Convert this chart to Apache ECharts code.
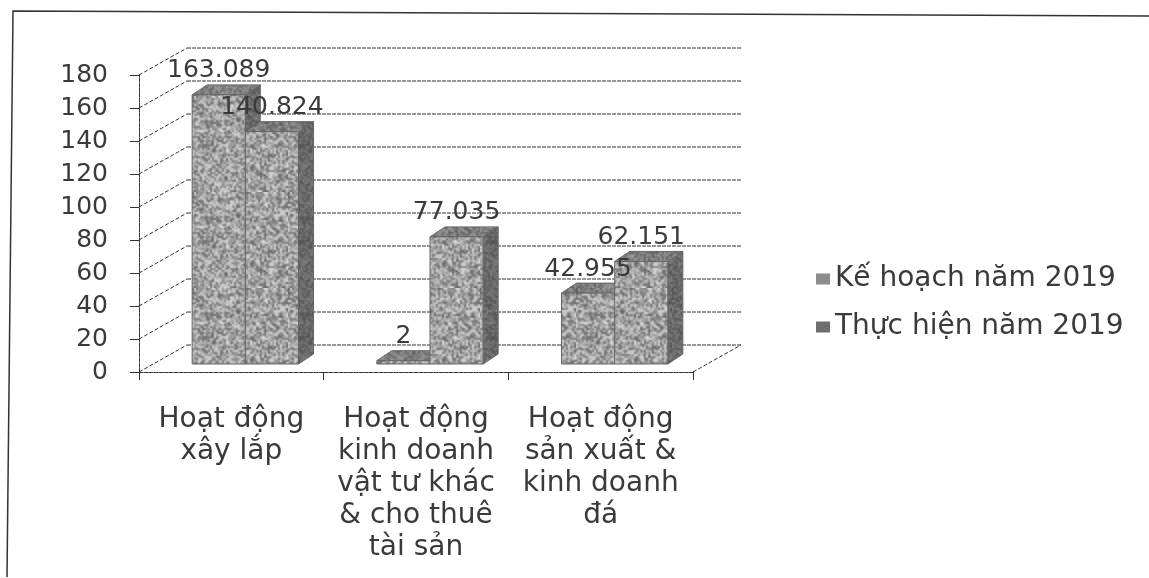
<!DOCTYPE html>
<html lang="en">

<head>
    <meta charset="UTF-8">
    <title>Hoạt động 2019</title>
    <script src="https://cdn.jsdelivr.net/npm/echarts/dist/echarts.min.js"></script>
    <style>
        html, body { margin: 0; padding: 0; background: #fff; }
    </style>
</head>

<body>
    <div id="chart" style="width: 1149px; height: 578px;"></div>
    <script>
        const categories = ['Hoạt động\nxây lắp', 'Hoạt động\nkinh doanh\nvật tư khác\n& cho thuê\ntài sản', 'Hoạt động\nsản xuất &\nkinh doanh\nđá'];
        const planName = 'Kế hoạch năm 2019';
        const actualName = 'Thực hiện năm 2019';
        const planValues = [163.089, 2, 42.955];
        const actualValues = [140.824, 77.035, 62.151];
        const yTicks = [0, 20, 40, 60, 80, 100, 120, 140, 160, 180];

        const font = '"DejaVu Sans", sans-serif';
        const textColor = '#3a3a3a';

        // wall depth of the fake 3d box, and the bar depth inside it
        const wallDx = 48, wallDy = -27;
        const barDx = 15, barDy = -10;
        const barShiftX = 14, barShiftY = -8;
        const barShare = 0.288;

        // scanned grey speckle for the bar faces, 2px grains then smoothed
        function speckle(base, spread) {
            const size = 48, scale = 2;
            const small = document.createElement('canvas');
            small.width = small.height = size;
            const sctx = small.getContext('2d');
            for (let y = 0; y < size; y++) {
                for (let x = 0; x < size; x++) {
                    const h = Math.sin(x * 12.9898 + y * 78.233) * 43758.5453;
                    const n = h - Math.floor(h);
                    const g = Math.round(base + (n - 0.5) * spread);
                    sctx.fillStyle = `rgb(${g},${g},${g})`;
                    sctx.fillRect(x, y, 1, 1);
                }
            }
            const canvas = document.createElement('canvas');
            canvas.width = canvas.height = size * scale;
            const ctx = canvas.getContext('2d');
            ctx.imageSmoothingEnabled = true;
            ctx.drawImage(small, 0, 0, size * scale, size * scale);
            return { image: canvas, repeat: 'repeat' };
        }
        const frontFill = speckle(160, 120);
        const topFill = speckle(125, 70);
        const sideFill = speckle(105, 50);

        function renderWalls(params, api) {
            const rect = params.coordSys;
            const y = api.coord([0, api.value(0)])[1];
            const x0 = rect.x, x1 = x0 + wallDx, x2 = rect.x + rect.width + wallDx;
            const line = { stroke: '#333', lineWidth: 1, lineDash: [4, 1] };
            const children = [
                { type: 'line', shape: { x1: x0, y1: y, x2: x1, y2: y + wallDy }, style: { ...line, lineDash: [4, 2] } },
                { type: 'line', shape: { x1: x1, y1: y + wallDy, x2: x2, y2: y + wallDy }, style: line }
            ];
            if (api.value(0) === 0) {
                // floor edge on the right
                children.push({ type: 'line', shape: { x1: rect.x + rect.width, y1: y, x2: x2, y2: y + wallDy }, style: { ...line, lineDash: [4, 2] } });
            }
            return { type: 'group', children };
        }

        function barBox(api, serieNo) {
            const base = api.coord([api.value(0), 0]);
            const top = api.coord([api.value(0), api.value(1)]);
            const w = api.size([1, 0])[0] * barShare;
            const left = base[0] + barShiftX + (serieNo - 1) * w;
            return { left, right: left + w, bottom: base[1] + barShiftY, top: top[1] + barShiftY };
        }

        function renderBar(serieNo) {
            return function (params, api) {
                const b = barBox(api, serieNo);
                const edge = { stroke: '#666', lineWidth: 1 };
                return {
                    type: 'group',
                    children: [
                        {
                            type: 'polygon',
                            shape: { points: [[b.right, b.bottom], [b.right + barDx, b.bottom + barDy], [b.right + barDx, b.top + barDy], [b.right, b.top]] },
                            style: { fill: sideFill, ...edge }
                        },
                        {
                            type: 'polygon',
                            shape: { points: [[b.left, b.top], [b.left + barDx, b.top + barDy], [b.right + barDx, b.top + barDy], [b.right, b.top]] },
                            style: { fill: topFill, ...edge }
                        },
                        {
                            type: 'rect',
                            shape: { x: b.left, y: b.top, width: b.right - b.left, height: b.bottom - b.top },
                            style: { fill: frontFill, ...edge }
                        }
                    ]
                };
            };
        }

        function renderLabel(params, api) {
            const b = barBox(api, api.value(2));
            return {
                type: 'text',
                style: {
                    x: (b.left + b.right) / 2,
                    y: b.top - 24,
                    text: String(api.value(1)),
                    fill: textColor,
                    font: '25px ' + font,
                    textAlign: 'center',
                    textVerticalAlign: 'middle'
                }
            };
        }

        const planData = planValues.map((v, i) => [i, v]);
        const actualData = actualValues.map((v, i) => [i, v]);
        const labelData = planValues.map((v, i) => [i, v, 0]).concat(actualValues.map((v, i) => [i, v, 1]));

        const chart = echarts.init(document.getElementById('chart'));

        chart.setOption({
            animation: false,
            backgroundColor: '#fff',
            // the scanned frame is a little tilted and has no right side
            graphic: [
                {
                    type: 'polyline',
                    shape: { points: [[1149, 16], [13, 11], [7, 577]] },
                    style: { fill: 'none', stroke: '#333', lineWidth: 1.5 },
                    silent: true
                }
            ],
            legend: {
                orient: 'vertical',
                left: 811,
                top: 260,
                itemWidth: 14,
                itemHeight: 11,
                itemGap: 20,
                icon: 'rect',
                data: [planName, actualName],
                textStyle: { fontFamily: font, fontSize: 28, color: textColor }
            },
            grid: { left: 139, right: 456, top: 75, bottom: 206 },
            xAxis: {
                type: 'category',
                data: categories,
                axisLine: { lineStyle: { color: '#333', type: [4, 1] } },
                axisTick: { show: true, length: 8, lineStyle: { color: '#333' } },
                axisLabel: {
                    interval: 0,
                    margin: 32,
                    lineHeight: 32,
                    fontFamily: font,
                    fontSize: 28,
                    color: textColor
                }
            },
            yAxis: {
                type: 'value',
                min: 0,
                max: 180,
                interval: 20,
                splitLine: { show: false },
                axisLine: { show: true, lineStyle: { color: '#333', type: [4, 1] } },
                axisTick: { show: true, length: 9, lineStyle: { color: '#333' } },
                axisLabel: { margin: 31, fontFamily: font, fontSize: 25, color: textColor }
            },
            series: [
                { type: 'custom', name: 'walls', data: yTicks.map(v => [v]), renderItem: renderWalls, encode: { y: 0 }, silent: true, z: 1 },
                { type: 'custom', name: planName, data: planData, renderItem: renderBar(0), encode: { x: 0, y: 1 }, itemStyle: { color: '#8c8c8c' }, z: 2 },
                { type: 'custom', name: actualName, data: actualData, renderItem: renderBar(1), encode: { x: 0, y: 1 }, itemStyle: { color: '#6f6f6f' }, z: 3 },
                { type: 'custom', name: 'labels', data: labelData, renderItem: renderLabel, encode: { x: 0, y: 1 }, silent: true, z: 4 }
            ]
        });
    </script>
</body>

</html>
